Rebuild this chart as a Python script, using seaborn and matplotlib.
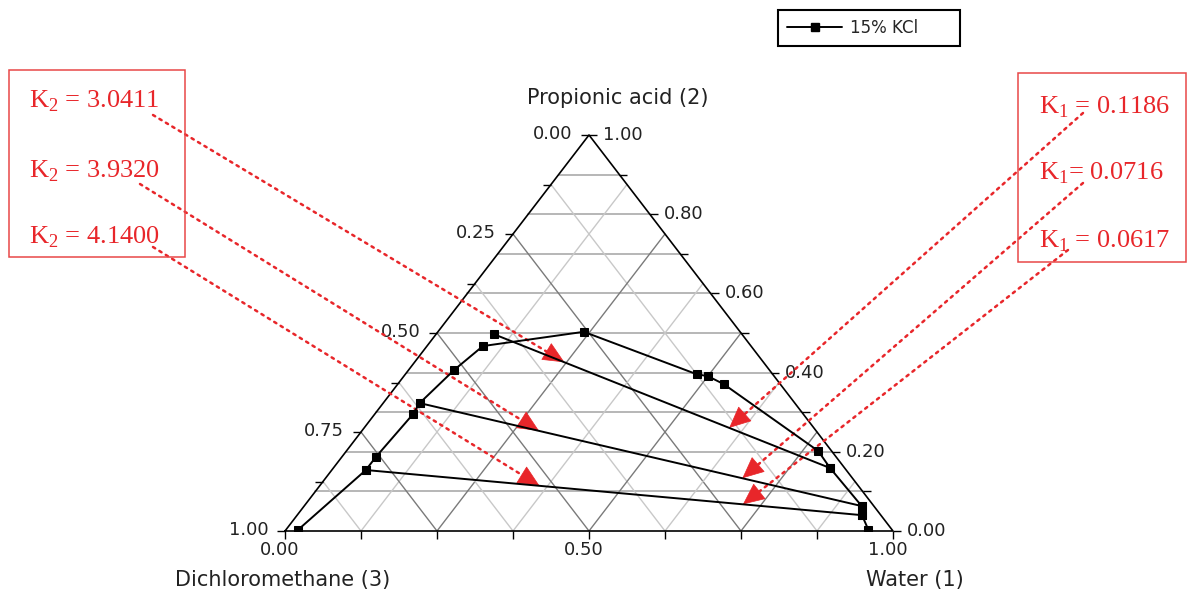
import numpy as np
import matplotlib
matplotlib.use('Agg')
import matplotlib.pyplot as plt
import matplotlib.patches as mpatches
from matplotlib.lines import Line2D
import seaborn as sns

# binodal curve, mass fractions: water (1) and propionic acid (2); dichloromethane (3) = rest
binodal_water = [0.020, 0.056, 0.056, 0.063, 0.060, 0.075, 0.092, 0.240,
                 0.479, 0.500, 0.536, 0.776, 0.817, 0.917, 0.929, 0.958]
binodal_acid = [0.003, 0.154, 0.187, 0.295, 0.323, 0.407, 0.467, 0.503,
                0.396, 0.391, 0.371, 0.202, 0.159, 0.063, 0.040, 0.003]

# tie lines: organic phase end -> aqueous phase end
tie_org_water = [0.095, 0.060, 0.056]
tie_org_acid = [0.497, 0.323, 0.154]
tie_aq_water = [0.817, 0.917, 0.929]
tie_aq_acid = [0.159, 0.063, 0.040]

# distribution coefficients and where their arrows hit the tie lines (fraction along line)
k2_values = ['3.0411', '3.9320', '4.1400']
k1_values = ['0.1186', '0.0716', '0.0617']
k2_at = [0.21, 0.27, 0.35]
k1_at = [0.70, 0.73, 0.76]

left_ticks = [0.00, 0.25, 0.50, 0.75, 1.00]     # dichloromethane
right_ticks = [0.00, 0.20, 0.40, 0.60, 0.80, 1.00]  # propionic acid
bottom_ticks = [0.00, 0.50, 1.00]               # water

W, H = 1192, 594
RED = '#e8262a'


def tern(w, p):
    # ternary -> cartesian (base 1, height 1; axes aspect does the squashing)
    w, p = np.broadcast_arrays(np.asarray(w, dtype=float), np.asarray(p, dtype=float))
    return w + p / 2, p


sns.set_theme(style='white')
plt.rcParams['font.family'] = ['DejaVu Sans']
plt.rcParams['mathtext.fontset'] = 'custom'
plt.rcParams['mathtext.rm'] = 'Liberation Serif'

fig = plt.figure(figsize=(W / 100, H / 100), dpi=100)
fig.patch.set_facecolor('white')
ax = fig.add_axes([285 / W, 63 / H, 608 / W, 396 / H])
ax.set_xlim(0, 1)
ax.set_ylim(0, 1)
ax.axis('off')

# grid lines
for p in np.arange(1, 10) / 10:
    ax.plot([p / 2, 1 - p / 2], [p, p], color='#aaaaaa', lw=1.2, zorder=1)
for c in np.arange(1, 8) / 8:
    col = '#7a7a7a' if c in (0.25, 0.5, 0.75) else '#c8c8c8'
    x0, y0 = tern(c, 0)
    x1, y1 = tern(c, 1 - c)
    ax.plot([x0, x1], [y0, y1], color=col, lw=1.0, zorder=1)
    x0, y0 = tern(1 - c, 0)
    x1, y1 = tern(0, 1 - c)
    ax.plot([x0, x1], [y0, y1], color=col, lw=1.0, zorder=1)

# triangle frame
ax.plot([0, 1, 0.5, 0], [0, 0, 1, 0], color='black', lw=1.2, zorder=2, clip_on=False)

# ticks
d = np.arange(0, 9) / 8
ax.plot(*tern(0, 1 - d), ls='none', marker=0, ms=6, mew=1, color='black', clip_on=False)
w = np.arange(0, 9) / 8
ax.plot(*tern(w, 0), ls='none', marker=3, ms=6, mew=1, color='black', clip_on=False)
p = np.arange(0, 11) / 10
ax.plot(*tern(1 - p, p), ls='none', marker=1, ms=6, mew=1, color='black', clip_on=False)

lab = dict(fontsize=13, color='#222222')
for v in left_ticks:
    ax.annotate(f'{v:.2f}', xy=tern(0, 1 - v), xytext=(-12, 1), textcoords='offset points',
                ha='right', va='center', **lab)
for v in right_ticks:
    ax.annotate(f'{v:.2f}', xy=tern(1 - v, v), xytext=(10, 0), textcoords='offset points',
                ha='left', va='center', **lab)
for v in bottom_ticks:
    ax.annotate(f'{v:.2f}', xy=tern(v, 0), xytext=(-4, -14), textcoords='offset points',
                ha='center', va='center', **lab)

ttl = dict(fontsize=15, color='#222222', ha='center', va='center')
ax.annotate('Propionic acid (2)', xy=(0.5, 1), xytext=(21, 27), textcoords='offset points', **ttl)
ax.annotate('Dichloromethane (3)', xy=(0, 0), xytext=(-2, -35), textcoords='offset points', **ttl)
ax.annotate('Water (1)', xy=(1, 0), xytext=(16, -35), textcoords='offset points', **ttl)

# binodal curve
bx, by = tern(binodal_water, binodal_acid)
sns.lineplot(x=bx, y=by, sort=False, estimator=None, ax=ax, color='black', lw=1.4,
             marker='s', markersize=5.5, markeredgecolor='black', zorder=4)

# tie lines
for i in range(3):
    tx, ty = tern([tie_org_water[i], tie_aq_water[i]], [tie_org_acid[i], tie_aq_acid[i]])
    sns.lineplot(x=tx, y=ty, sort=False, estimator=None, ax=ax, color='black', lw=1.4,
                 marker='s', markersize=5.5, markeredgecolor='black', zorder=4)


# K annotations: dotted leader + solid red arrowhead on the tie line
def pointer(tip, start):
    tip_px = ax.transData.transform(tip)
    start_px = np.array([start[0], H - start[1]], dtype=float)
    u = (tip_px - start_px) / np.hypot(*(tip_px - start_px))
    ax.annotate('', xy=tip, xycoords='data', xytext=start_px, textcoords='figure pixels',
                arrowprops=dict(arrowstyle='-', color=RED, lw=1.8, ls=(0, (1, 2)),
                                shrinkA=0, shrinkB=8),
                annotation_clip=False)
    ax.annotate('', xy=tip, xycoords='data', xytext=tip_px - u * 17, textcoords='figure pixels',
                arrowprops=dict(arrowstyle='-|>,head_length=1.2,head_width=0.55',
                                mutation_scale=12, color=RED, lw=0.5, shrinkA=0, shrinkB=0),
                annotation_clip=False)


k2_start = [(153, 115), (140, 184), (153, 247)]
k1_start = [(1083, 113), (1083, 183), (1068, 250)]
k2_base = [108, 177, 243]
k1_base = [113, 180, 247]
for i in range(3):
    x0, y0 = tern(tie_org_water[i], tie_org_acid[i])
    x1, y1 = tern(tie_aq_water[i], tie_aq_acid[i])
    t2, t1 = k2_at[i], k1_at[i]
    pointer((x0 + t2 * (x1 - x0), y0 + t2 * (y1 - y0)), k2_start[i])
    pointer((x0 + t1 * (x1 - x0), y0 + t1 * (y1 - y0)), k1_start[i])
    fig.text(29 / W, (H - k2_base[i]) / H, r'K$_\mathregular{2}$ = ' + k2_values[i],
             family='Liberation Serif', fontsize=19, color=RED, va='baseline')
    sep = '= ' if i == 1 else ' = '
    fig.text(1039 / W, (H - k1_base[i]) / H, r'K$_\mathregular{1}$' + sep + k1_values[i],
             family='Liberation Serif', fontsize=19, color=RED, va='baseline')

fig.add_artist(mpatches.Rectangle((9 / W, (H - 257) / H), 176 / W, 187 / H,
                                  transform=fig.transFigure, fill=False, ec='#e84848', lw=1.1))
fig.add_artist(mpatches.Rectangle((1018 / W, (H - 262) / H), 168 / W, 189 / H,
                                  transform=fig.transFigure, fill=False, ec='#e84848', lw=1.1))

# legend
handle = Line2D([0], [0], color='black', lw=1.4, marker='s', markersize=5.5)
leg = ax.legend(handles=[handle], labels=['15% KCl'], loc='upper left',
                bbox_to_anchor=(778 / W, (H - 43) / H, 182 / W, 33 / H),
                bbox_transform=fig.transFigure, mode='expand',
                borderaxespad=0, fancybox=False, framealpha=1, edgecolor='black',
                handlelength=3.3, handletextpad=0.5, borderpad=0.55, fontsize=12)
leg.get_frame().set_linewidth(1.5)

fig.savefig('out.png', dpi=100, facecolor='white')
